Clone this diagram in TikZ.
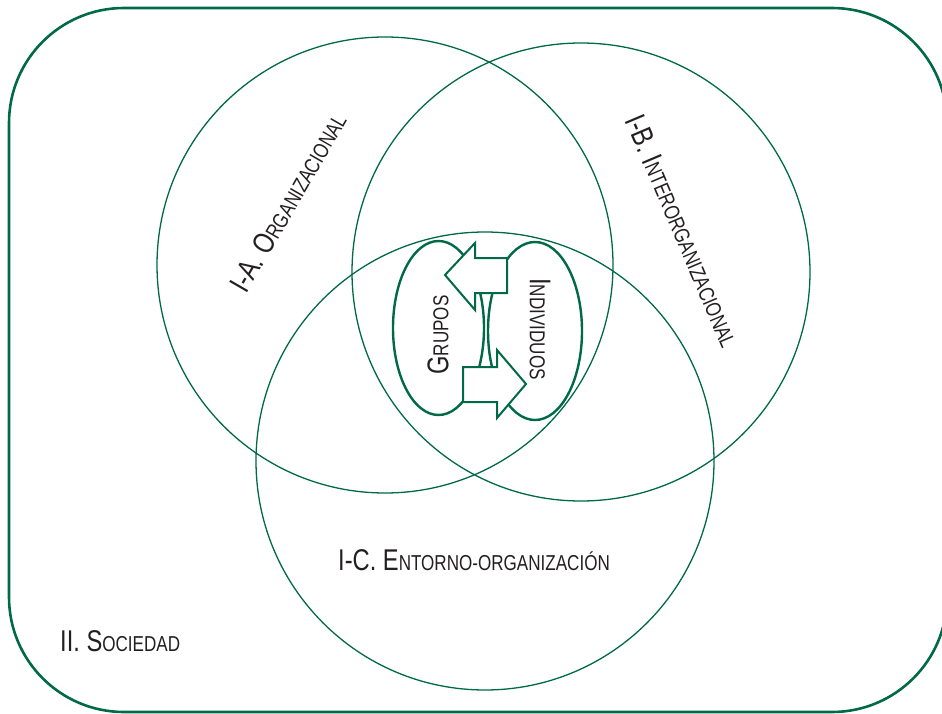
\documentclass[tikz,border=0pt]{standalone}
\usepackage{fontspec}
\usepackage{tikz}
\usetikzlibrary{shapes.geometric}
\newfontfamily\condsans[FakeStretch=0.79]{Liberation Sans}
\definecolor{verdeosc}{RGB}{0,105,70}
\definecolor{tinta}{RGB}{35,31,32}
\newcommand{\versal}[1]{{\fontsize{21.6}{22}\selectfont\MakeUppercase{#1}}}
\tikzset{
  frame/.style={draw=verdeosc, line width=2.6pt, rounded corners=115pt},
  venn/.style={draw=verdeosc, line width=1.3pt},
  grupo/.style={ellipse, draw=verdeosc, line width=2.4pt, inner sep=0pt},
  flecha/.style={draw=verdeosc, fill=white, line width=2pt, line join=miter},
  etiqueta/.style={text=tinta, font={\condsans\fontsize{30}{32}\selectfont}, inner sep=0pt},
}

\begin{document}
\begin{tikzpicture}[x=1pt, y=-1pt]
    \useasboundingbox (0,0) rectangle (942,714);
    \clip (0,0) rectangle (942,714);

    % sociedad
    \draw[frame] (9,8) rectangle (947,712);

    % los tres niveles
    \draw[venn] (385,265) circle[radius=228pt];
    \draw[venn] (581,272) circle[radius=229pt];
    \draw[venn] (485,461) circle[radius=229pt];

    % grupos e individuos
    \node[grupo, minimum width=91pt, minimum height=174pt] (grupos) at (438.5,328) {};
    \node[grupo, minimum width=94pt, minimum height=178pt] (individuos) at (535,331) {};

    \draw[flecha] (507,258) -- (507,293) -- (475,293) -- (475,310)
        -- (445,275) -- (475,243) -- (475,258) -- cycle;
    \draw[flecha] (463,367) -- (463,402) -- (497,402) -- (497,418)
        -- (526,384) -- (497,350) -- (497,367) -- cycle;

    % textos
    \node[etiqueta, rotate=60] (orga) at (288,202) {I-A. O\versal{rganizacional}};
    \node[etiqueta, rotate=-67] (inter) at (683,231) {I-B. I\versal{nterorganizacional}};
    \node[etiqueta, anchor=base west] (entorno) at (338,570) {I-C. E\versal{ntorno-organización}};
    \node[etiqueta, anchor=base west] (sociedad) at (60,651) {II. S\versal{ociedad}};
    \node[etiqueta, rotate=90] (tgrupos) at (438,335) {G\versal{rupos}};
    \node[etiqueta, rotate=-90] (tindiv) at (540,329) {I\versal{ndividuos}};
\end{tikzpicture}
\end{document}
